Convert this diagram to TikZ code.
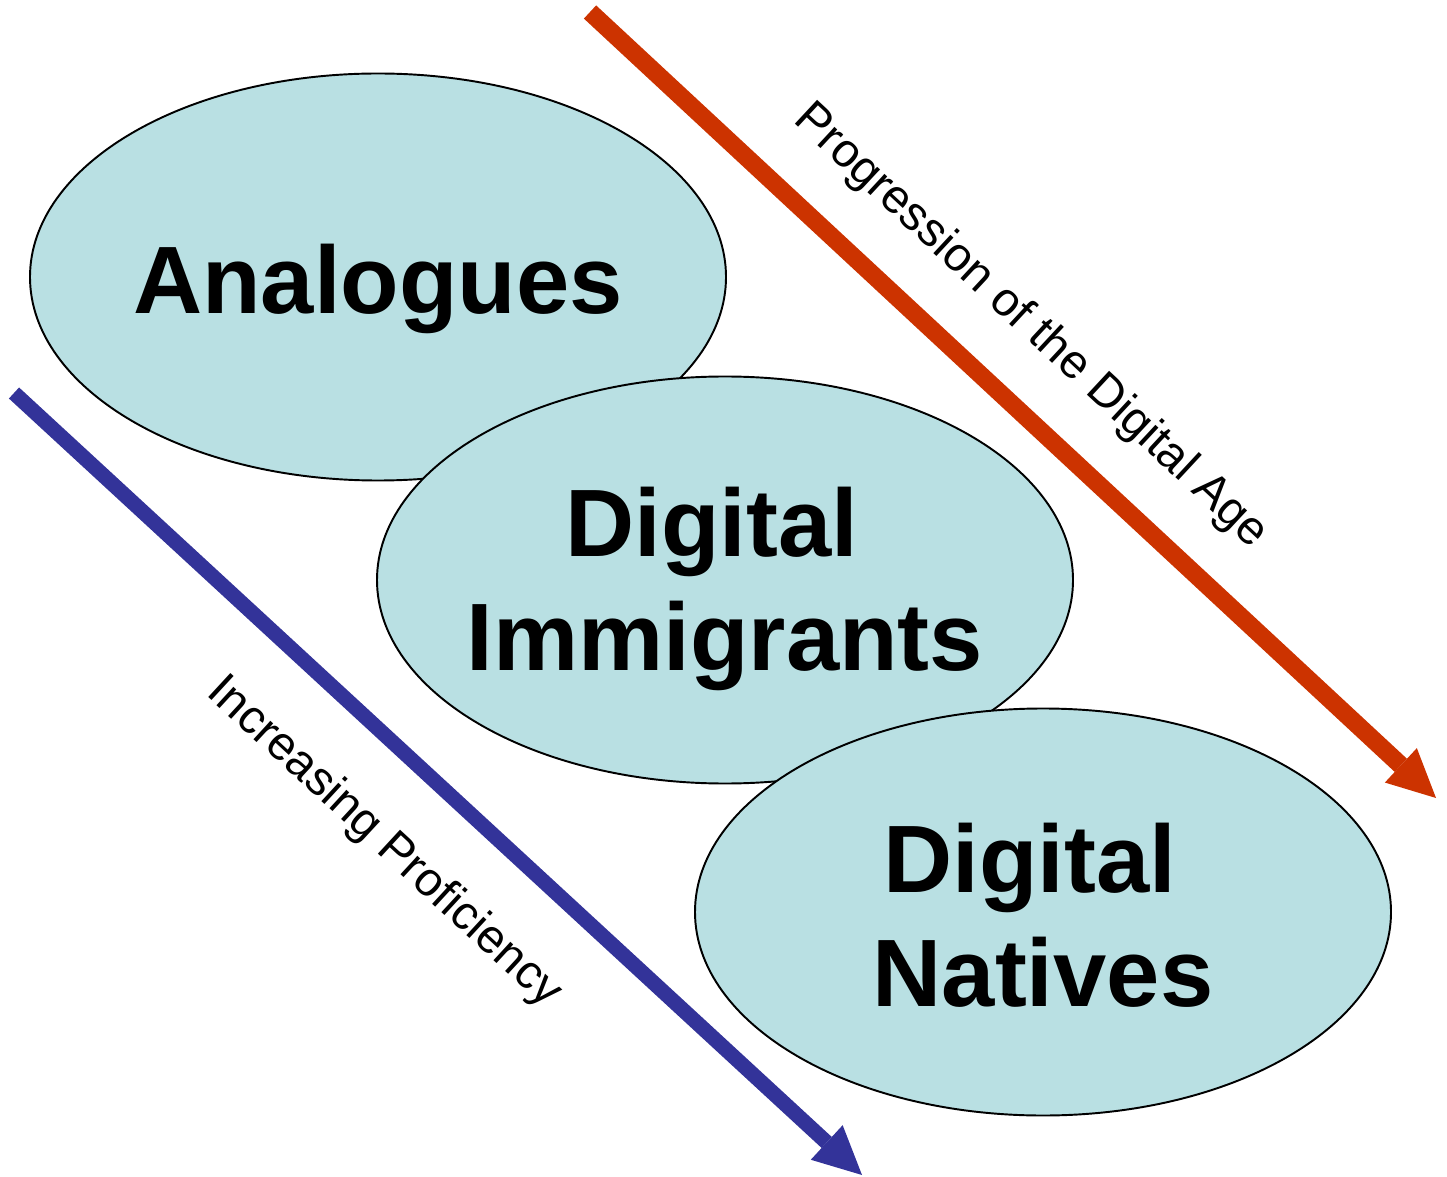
\documentclass[tikz,border=0pt]{standalone}
\usepackage{fontspec}
\setmainfont{Liberation Sans}
\usetikzlibrary{arrows.meta,shapes.geometric}

\definecolor{groupfill}{RGB}{185,224,227}
\definecolor{agered}{RGB}{204,51,0}
\definecolor{skillblue}{RGB}{51,51,153}

% lower a line of text without changing its box
\newcommand{\lowerby}[2]{\raisebox{-#1}[\height][\depth]{#2}}

\begin{document}
\begin{tikzpicture}[
		x=0.2mm, y=-0.2mm,
		group/.style={ellipse, draw=black, line width=1.1pt, fill=groupfill, minimum width=139.2mm, minimum height=81.4mm, inner xsep=-3mm, inner ysep=0pt, align=center, font=\fontsize{54.5}{65}\selectfont\bfseries},
		trend/.style={line width=#1, -{Triangle[length=9.6mm,width=9.4mm,line width=0pt]}},
		trendlabel/.style={sloped, inner sep=0pt, text=black, font=\fontsize{27}{32}\selectfont}
	]
		\useasboundingbox (0,0) rectangle (1447,1177);

		\node[group](analogues) at (378,277){\lowerby{2.4mm}{Analogues}};
		\node[group](immigrants) at (725,580){\lowerby{1.8mm}{Digital\kern.278em}\\\lowerby{1.8mm}{Immigrants}};
		\node[group](natives) at (1043,912){\lowerby{0.6mm}{Digital\kern.278em}\\\lowerby{0.6mm}{Natives}};

		\coordinate (age-start) at (590,12);
		\coordinate (age-end) at (1436,798);
		\coordinate (skill-start) at (14,393);
		\coordinate (skill-end) at (862,1175);

		\draw[trend=3.6mm, agered](age-start) -- node[trendlabel, pos=0.465, above=7.7mm]{Progression of the Digital Age} (age-end);
		\draw[trend=3mm, skillblue](skill-start) -- node[trendlabel, pos=0.5, below=10mm]{Increasing Proficiency} (skill-end);
	\end{tikzpicture}
\end{document}
